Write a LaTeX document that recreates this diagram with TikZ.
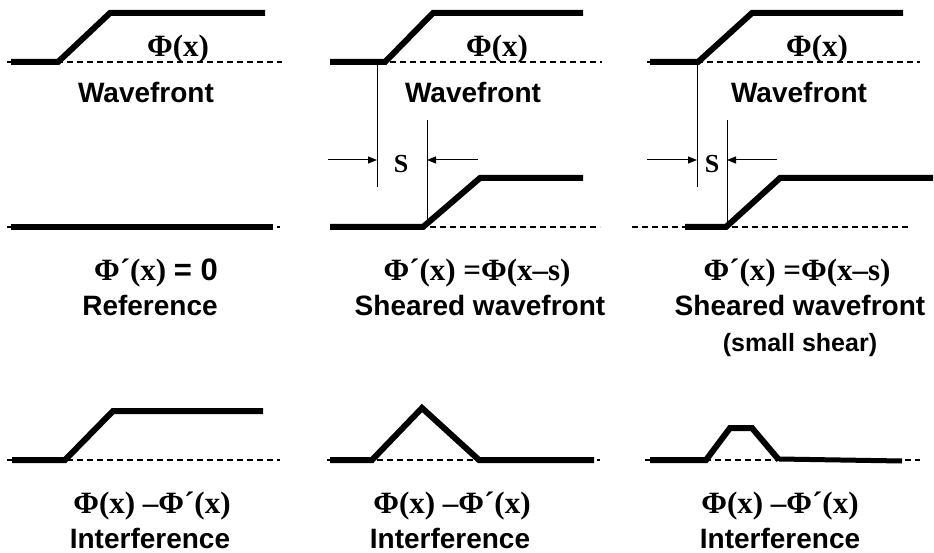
\documentclass[tikz,border=0pt]{standalone}
\usepackage{fontspec}
\setmainfont{Liberation Serif}
\setsansfont{Liberation Sans}
\usetikzlibrary{arrows.meta, positioning}

\newcommand{\phifont}{\fontsize{31}{35}\selectfont\rmfamily\bfseries}
\newcommand{\wordfont}{\fontsize{28}{32}\selectfont\sffamily\bfseries}
\newcommand{\smallfont}{\fontsize{25}{29}\selectfont\sffamily\bfseries}

\begin{document}
\begin{tikzpicture}[
    x=1pt, y=-1pt,
    wave/.style={line width=6pt},
    base/.style={line width=1.5pt, dash pattern=on 6pt off 4pt},
    guide/.style={line width=1pt},
    shiftarrow/.style={line width=1pt, -{Triangle[length=9pt, width=7pt]}},
    phi/.style={font=\phifont, anchor=base, inner sep=0pt},
    word/.style={font=\wordfont, anchor=base, inner sep=0pt}
]
    \useasboundingbox (0,0) rectangle (934,553);

    % reference
    \draw[base] (7,62) -- (282,62);
    \draw[wave] (11,62) -- (58,62) -- (110,13) -- (265,13);
    \node[phi] (phiA) at (178,57) {Φ(x)};
    \node[word] (wfA) at (146,103) {Wavefront};
    \draw[base] (7,227) -- (280,227);
    \draw[wave] (11,227) -- (273,227);
    \node[phi] (eqA) at (156,280) {Φ´(x) {\sffamily = 0}};
    \node[word] (nameA) at (150,316) {Reference};

    % sheared wavefront
    \draw[base] (330,62) -- (602,62);
    \draw[wave] (330,62) -- (385,62) -- (433,13) -- (583,13);
    \node[phi] (phiB) at (497,57) {Φ(x)};
    \node[word] (wfB) at (473,103) {Wavefront};
    \coordinate (gB1) at (377,63);
    \coordinate (gB2) at (427,227);
    \draw[guide] (gB1) -- (377,187);
    \draw[guide] (gB2) -- (427,120);
    \draw[shiftarrow] (328,160) -- (gB1 |- 0,160);
    \draw[shiftarrow] (478,160) -- (gB2 |- 0,160);
    \node[phi, font=\fontsize{26}{30}\selectfont\rmfamily\bfseries] (sB) at (401,173) {S};
    \draw[base] (330,227) -- (600,227);
    \draw[wave] (330,227) -- (423,227) -- (480,178) -- (583,178);
    \node[phi] (eqB) at (477,280) {Φ´(x) =Φ(x–s)};
    \node[word] (nameB) at (480,316) {Sheared wavefront};

    % small shear
    \draw[base] (647,62) -- (920,62);
    \draw[wave] (650,62) -- (698,62) -- (752,13) -- (903,13);
    \node[phi] (phiC) at (817,57) {Φ(x)};
    \node[word] (wfC) at (799,103) {Wavefront};
    \coordinate (gC1) at (697,63);
    \coordinate (gC2) at (727,227);
    \draw[guide] (gC1) -- (697,187);
    \draw[guide] (gC2) -- (727,120);
    \draw[shiftarrow] (647,160) -- (gC1 |- 0,160);
    \draw[shiftarrow] (777,160) -- (gC2 |- 0,160);
    \node[phi, font=\fontsize{26}{30}\selectfont\rmfamily\bfseries] (sC) at (712,173) {S};
    \draw[base] (632,227) -- (910,227);
    \draw[wave] (685,227) -- (726,227) -- (780,178) -- (933,178);
    \node[phi] (eqC) at (797,280) {Φ´(x) =Φ(x–s)};
    \node[word] (nameC) at (800,316) {Sheared wavefront};
    \node[word, font=\smallfont] (noteC) at (800,351) {(small shear)};

    % interference
    \draw[base] (7,460) -- (280,460);
    \draw[wave] (12,460) -- (65,460) -- (113,411) -- (263,411);
    \node[phi] (difA) at (152,513) {Φ(x) –Φ´(x)};
    \node[word] (intA) at (150,548) {Interference};

    \draw[base] (327,460) -- (600,460);
    \draw[wave] (330,460) -- (372,460) -- (422,408) -- (479,460) -- (594,460);
    \node[phi] (difB) at (452,513) {Φ(x) –Φ´(x)};
    \node[word] (intB) at (450,548) {Interference};

    \draw[base] (645,460) -- (920,460);
    \draw[wave] (650,460) -- (706,460) -- (730,428) -- (752,428) -- (779,460);
    \draw[line width=5pt] (779,459) -- (902,461);
    \node[phi] (difC) at (780,513) {Φ(x) –Φ´(x)};
    \node[word] (intC) at (780,548) {Interference};
\end{tikzpicture}
\end{document}
